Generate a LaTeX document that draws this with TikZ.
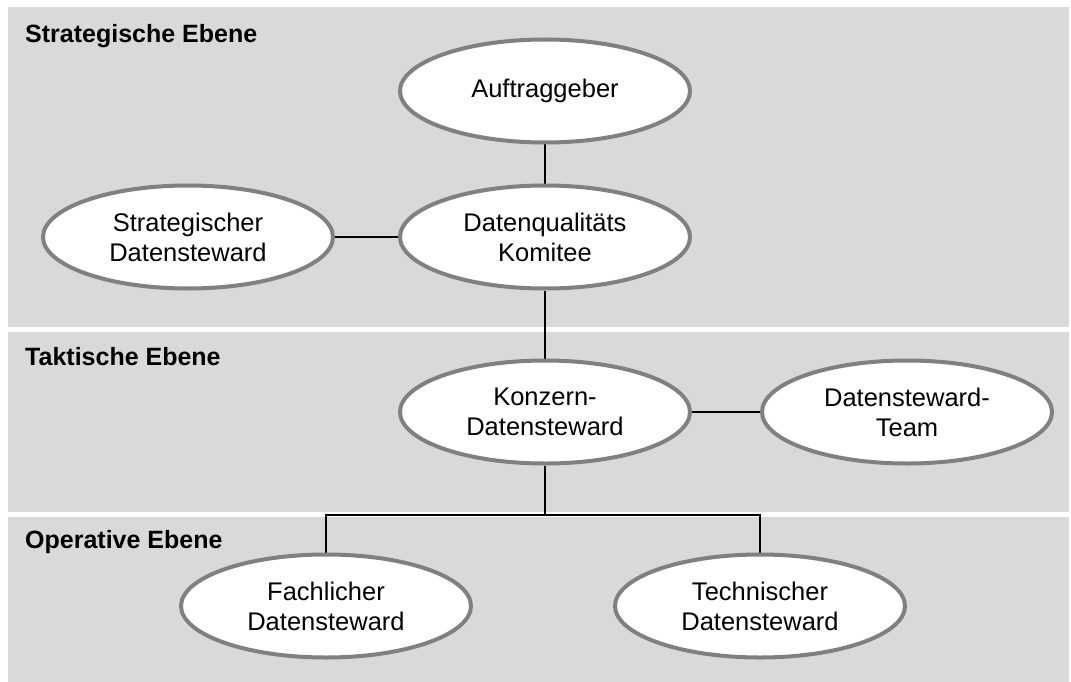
\documentclass[tikz,border=0pt]{standalone}
\usepackage{fontspec}
\setmainfont{Liberation Sans}
\usetikzlibrary{shapes.geometric}
\pgfdeclarelayer{back}
\pgfdeclarelayer{links}
\pgfsetlayers{back,links,main}
\definecolor{bandgray}{HTML}{D9D9D9}
\definecolor{rimgray}{HTML}{808080}
\tikzset{
  role/.style={ellipse, draw=rimgray, line width=4pt, fill=white,
    minimum width=290pt, minimum height=103pt, inner sep=0pt,
    align=center, font=\fontsize{25.5}{30}\selectfont},
  levellabel/.style={anchor=base west, inner sep=0pt,
    font=\fontsize{25}{30}\selectfont\bfseries},
  link/.style={line width=2pt, black},
  band/.style={fill=bandgray, draw=none}
}
\begin{document}
\begin{tikzpicture}[x=1pt,y=-1pt]
\useasboundingbox (0,0) rectangle (1071,682);
\begin{pgfonlayer}{back}
  \fill[white] (0,0) rectangle (1071,682);
  \path[band] (8,7) rectangle (1069,327);
  \path[band] (8,332) rectangle (1069,512);
  \path[band] (8,517) rectangle (1069,682);
\end{pgfonlayer}

% level captions
\node[levellabel] (lvlS) at (25,43) {Strategische Ebene};
\node[levellabel] (lvlT) at (25,365) {Taktische Ebene};
\node[levellabel] (lvlO) at (25,548) {Operative Ebene};

% roles
\node[role] (auftrag) at (545,91) {Auftraggeber};
\node[role] (komitee) at (545,237) {Datenqualitäts\\Komitee};
\node[role] (strat) at (188,237) {Strategischer\\Datensteward};
\node[role] (konzern) at (545,412) {Konzern-\\Datensteward};
\node[role] (team) at (907,412) {Datensteward-\\Team};
\node[role] (fach) at (326,606) {Fachlicher\\Datensteward};
\node[role] (tech) at (760,606) {Technischer\\Datensteward};

% connectors
\coordinate (split) at (545,515);
\begin{pgfonlayer}{links}
  \draw[link] (auftrag) -- (komitee);
  \draw[link] (strat) -- (komitee);
  \draw[link] (komitee) -- (konzern);
  \draw[link] (konzern) -- (team);
  \draw[link] (konzern) -- (split);
  \draw[link] (split) -| (fach);
  \draw[link] (split) -| (tech);
\end{pgfonlayer}
\end{tikzpicture}
\end{document}
